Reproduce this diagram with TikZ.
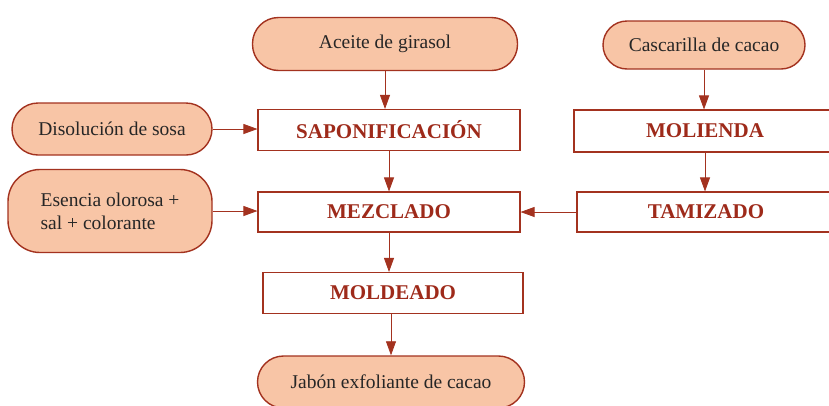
\documentclass[tikz,border=0pt]{standalone}
\usepackage{fontspec}
\setmainfont{Liberation Serif}
\usetikzlibrary{arrows.meta}
\definecolor{brd}{HTML}{A3321F}
\definecolor{peach}{HTML}{F8C5A6}
\definecolor{txtred}{HTML}{9E2A1A}
\tikzset{
  x=1pt, y=-1pt,
  inbox/.style={draw=brd, line width=1.4pt, fill=peach, rounded corners=26pt, inner sep=0pt, font=\fontsize{19.5}{23}\selectfont, text=black!85},
  stepbox/.style={draw=brd, line width=1.1pt, fill=white, inner sep=0pt, font=\fontsize{21}{24}\selectfont\bfseries, text=txtred},
  arr/.style={draw=brd, line width=0.8pt, -{Triangle[length=14pt,width=10pt]}}
}
\begin{document}
\begin{tikzpicture}
\useasboundingbox (0,0) rectangle (829,405);
\node[inbox, minimum width=265pt, minimum height=53pt] (ace) at (385,44) {Aceite de girasol};
\node[inbox, minimum width=200pt, minimum height=52pt] (diso) at (112,129) {Disolución de sosa};
\node[inbox, minimum width=204pt, minimum height=83pt, rounded corners=32pt, align=left] (esen) at (110,211) {Esencia olorosa +\\sal + colorante};
\node[inbox, minimum width=202pt, minimum height=48pt, rounded corners=24pt] (casc) at (704,45) {Cascarilla de cacao};
\node[inbox, minimum width=267pt, minimum height=52pt] (jab) at (391,382) {Jabón exfoliante de cacao};
\node[stepbox, minimum width=262pt, minimum height=41pt] (sapo) at (389,130) {SAPONIFICACIÓN};
\node[stepbox, minimum width=262pt, minimum height=40pt] (mezc) at (389,212) {MEZCLADO};
\node[stepbox, minimum width=260pt, minimum height=41pt] (mold) at (393,293) {MOLDEADO};
\node[stepbox, minimum width=262pt, minimum height=42pt] (moli) at (705,131) {MOLIENDA};
\node[stepbox, minimum width=258pt, minimum height=40pt] (tami) at (706,212) {TAMIZADO};
\draw[arr] (ace.south -| 385,0) -- (sapo.north -| 385,0);
\draw[arr] (diso.east) -- (sapo.west |- diso.east);
\draw[arr] (esen.east) -- (mezc.west |- esen.east);
\draw[arr] (sapo.south) -- (mezc.north);
\draw[arr] (tami.west) -- (mezc.east);
\draw[arr] (casc.south) -- (casc.south |- moli.north);
\draw[arr] (moli.south) -- (tami.north -| moli.south);
\draw[arr] (mezc.south) -- (mezc.south |- mold.north);
\draw[arr] (mold.south -| 391,0) -- (jab.north);
\end{tikzpicture}
\end{document}
